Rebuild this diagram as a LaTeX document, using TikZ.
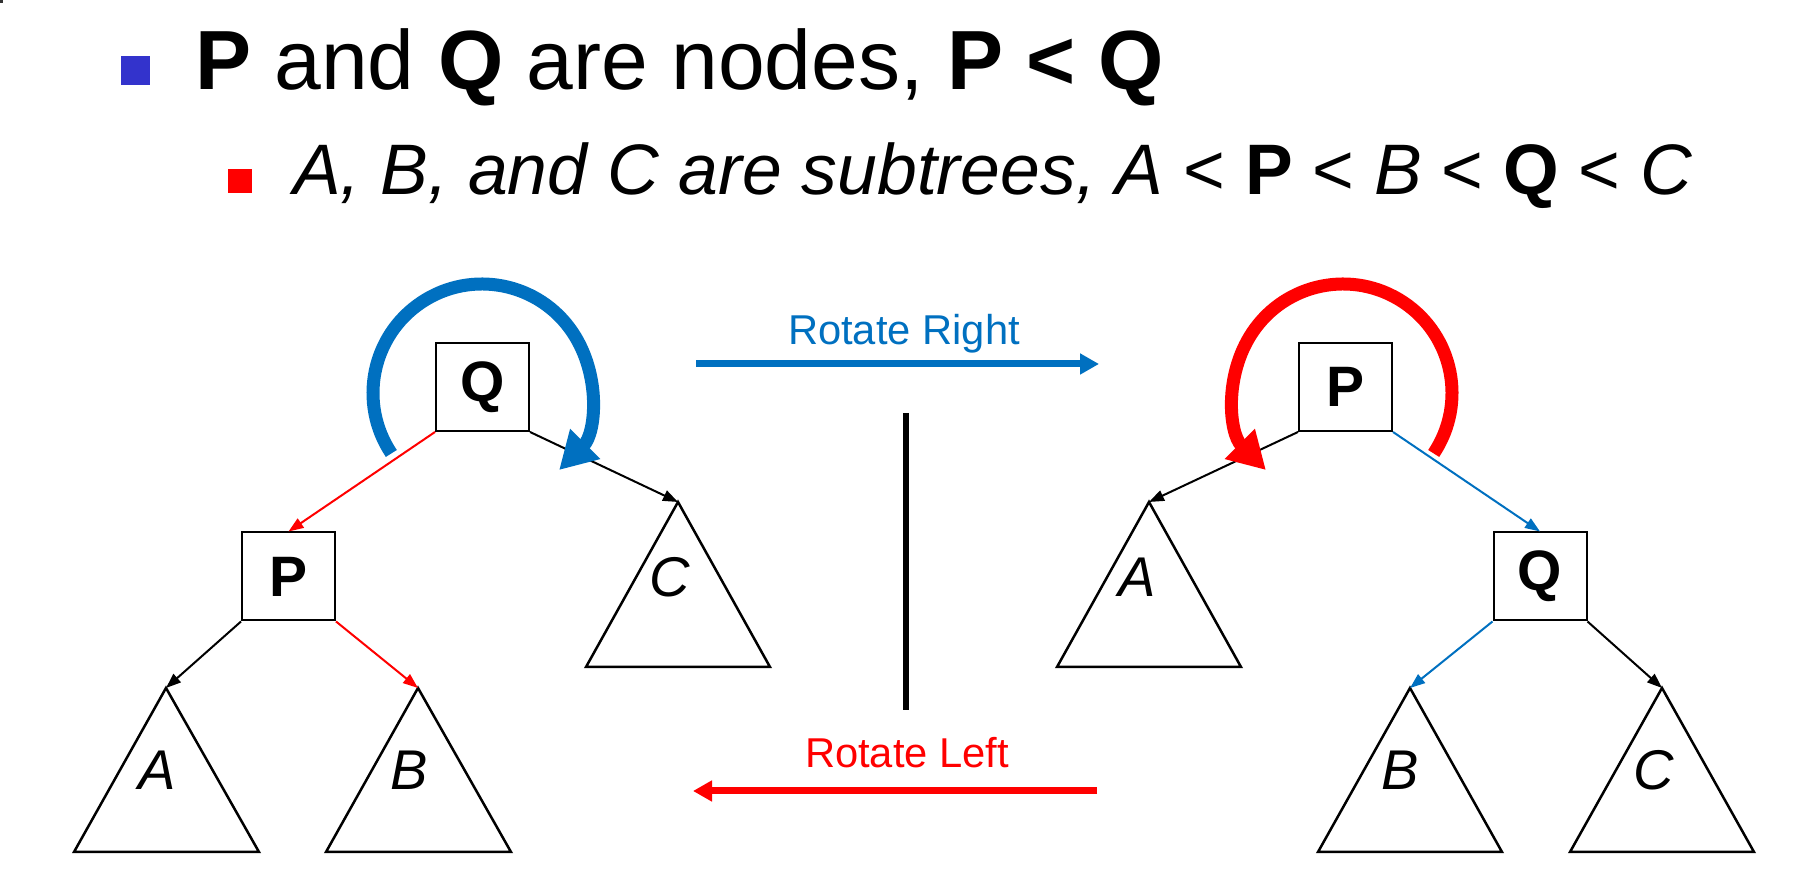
\documentclass[tikz,border=0pt]{standalone}
\definecolor{rotblue}{RGB}{0,112,192}
\definecolor{rotred}{RGB}{255,0,0}
\definecolor{bulletblue}{RGB}{51,51,204}
\usepackage{fontspec}
\setmainfont{Liberation Sans}
\usepackage{tikz}
\usetikzlibrary{shapes,arrows.meta,positioning,calc}

\tikzset{
    keybox/.style={draw, line width=2pt, minimum width=93pt, minimum height=88pt, inner sep=0pt,
        font=\fontsize{57}{57}\selectfont\bfseries},
    subtree/.style={draw, line width=2.5pt, line join=miter},
    treelabel/.style={anchor=base, inner sep=0pt, font=\fontsize{56}{56}\selectfont\itshape},
    edge/.style={line width=2pt, -{Triangle[length=15pt,width=11pt]}},
    turnarc/.style={line width=13pt, -{Triangle[length=37pt,width=40pt]}},
    rotarrow/.style={line width=7pt, -{Triangle[length=19pt,width=20pt]}},
    rotlabel/.style={anchor=base, inner sep=0pt, font=\fontsize{41.7}{42}\selectfont},
    bullet/.style={inner sep=0pt, minimum size=#1},
}

\begin{document}
\begin{tikzpicture}[x=1pt, y=1pt]
            \useasboundingbox (0,0) rectangle (1802,882);
            \fill[black!80] (0,879) rectangle (3,882);

            % bullet lines
            \node[bullet=29pt, fill=bulletblue] (bul1) at (135.5,811) {};
            \node[anchor=base west, inner sep=0pt, font=\fontsize{84}{84}\selectfont] (line1) at (195,792)
                {\textbf{P} and \textbf{Q} are nodes, \textbf{P < Q}};
            \node[bullet=24pt, fill=rotred] (bul2) at (240,701) {};
            \node[anchor=base west, inner sep=0pt, font=\fontsize{71.5}{71.5}\selectfont] (line2) at (293,687)
                {\textit{A, B, and C are subtrees, A} < \textbf{P} < \textit{B} < \textbf{Q} < \textit{C}};

            % left tree
            \node[keybox] (Ql) at (482.5,495) {Q};
            \node[keybox] (Pl) at (288.5,305.5) {P};
            \coordinate (Al) at (166,194);
            \coordinate (Bl) at (418,194);
            \coordinate (Cl) at (678,380);
            \draw[subtree] (Al) -- ++(-92,-164) -- ++(185,0) -- cycle;
            \draw[subtree] (Bl) -- ++(-92,-164) -- ++(185,0) -- cycle;
            \draw[subtree] (Cl) -- ++(-92,-165) -- ++(184,0) -- cycle;
            \node[treelabel] (Alab) at (157,92) {A};
            \node[treelabel] (Blab) at (409,92) {B};
            \node[treelabel] (Clab) at (670,285) {C};
            \draw[edge, rotred] (Ql.south west) -- (Pl.north);
            \draw[edge] (Ql.south east) -- (Cl);
            \draw[edge] (Pl.south west) -- (Al);
            \draw[edge, rotred] (Pl.south east) -- (Bl);
            \coordinate (Qturn) at (482,489);
            \draw[turnarc, rotblue] ([shift={(213.7:109)}]Qturn) arc[start angle=213.7, end angle=-45, radius=109];

            % right tree
            \node[keybox] (Pr) at (1345.5,495) {P};
            \node[keybox] (Qr) at (1540,305.5) {Q};
            \coordinate (Ar) at (1149,380);
            \coordinate (Br) at (1410,194);
            \coordinate (Cr) at (1662,194);
            \draw[subtree] (Ar) -- ++(-92,-165) -- ++(184,0) -- cycle;
            \draw[subtree] (Br) -- ++(-92,-164) -- ++(184,0) -- cycle;
            \draw[subtree] (Cr) -- ++(-92,-164) -- ++(184,0) -- cycle;
            \node[treelabel] (Arlab) at (1137,285) {A};
            \node[treelabel] (Brlab) at (1400,92) {B};
            \node[treelabel] (Crlab) at (1654,92) {C};
            \draw[edge] (Pr.south west) -- (Ar);
            \draw[edge, rotblue] (Pr.south east) -- (Qr.north);
            \draw[edge, rotblue] (Qr.south west) -- (Br);
            \draw[edge] (Qr.south east) -- (Cr);
            \coordinate (Pturn) at (1343,489);
            \draw[turnarc, rotred] ([shift={(-33.7:109)}]Pturn) arc[start angle=-33.7, end angle=225, radius=109];

            % rotations
            \coordinate (rotR start) at (696,518);
            \coordinate (rotR end) at (1099,518);
            \draw[rotarrow, rotblue] (rotR start) -- (rotR end);
            \node[rotlabel, text=rotblue] (rotR lab) at (904,537) {Rotate Right};
            \coordinate (rotL start) at (1097,91);
            \coordinate (rotL end) at (693,91);
            \draw[rotarrow, rotred] (rotL start) -- (rotL end);
            \node[rotlabel, text=rotred] (rotL lab) at (907,114) {Rotate Left};
            \coordinate (sep top) at (906,469);
            \coordinate (sep bot) at (906,172);
            \draw[line width=6pt] (sep top) -- (sep bot);
        \end{tikzpicture}
\end{document}
